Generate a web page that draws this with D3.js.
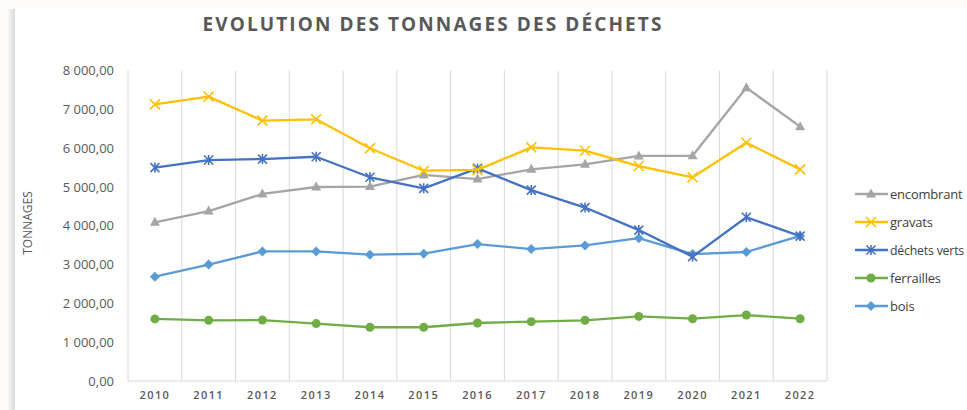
<!DOCTYPE html>
<html><head><meta charset="utf-8">
<script src="https://cdn.jsdelivr.net/npm/d3@7"></script>
<style>
html,body{margin:0;padding:0;background:#fdfcf9;overflow:hidden;}
svg{display:block;}
</style></head>
<body>
<svg id="c" width="967" height="410"></svg>
<script>
const years = ["2010","2011","2012","2013","2014","2015","2016","2017","2018","2019","2020","2021","2022"];
const encombrant = [4090,4380,4820,5000,5010,5310,5205,5455,5585,5800,5805,7560,6555];
const gravats = [7130,7330,6710,6745,6000,5420,5440,6020,5935,5540,5250,6140,5455];
const dechetsVerts = [5500,5695,5720,5780,5250,4965,5480,4920,4470,3890,3205,4220,3735];
const ferrailles = [1600,1565,1570,1480,1385,1385,1495,1530,1565,1665,1605,1700,1605];
const bois = [2690,3000,3340,3340,3255,3280,3530,3400,3495,3680,3270,3325,3740];
const yTicks = [0,1000,2000,3000,4000,5000,6000,7000,8000];
const seriesNames = ["encombrant","gravats","déchets verts","ferrailles","bois"];

const series = [
  {name: seriesNames[0], values: encombrant, color: "#A5A5A5", marker: "triangle"},
  {name: seriesNames[1], values: gravats, color: "#FFC000", marker: "x"},
  {name: seriesNames[2], values: dechetsVerts, color: "#4472C4", marker: "star"},
  {name: seriesNames[3], values: ferrailles, color: "#70AD47", marker: "circle"},
  {name: seriesNames[4], values: bois, color: "#5B9BD5", marker: "diamond"}
];

const svg = d3.select("#c");
const defs = svg.append("defs");
const g1 = defs.append("linearGradient").attr("id","sh").attr("x1","0").attr("x2","1");
g1.append("stop").attr("offset","0").attr("stop-color","#fdfcf9");
g1.append("stop").attr("offset","1").attr("stop-color","#d9d9d9");
svg.append("rect").attr("x",7).attr("y",9).attr("width",8).attr("height",410).attr("fill","url(#sh)");
svg.append("rect").attr("x",15).attr("y",9).attr("width",952).attr("height",410).attr("fill","#ffffff");

const L = 128, R = 827, T = 70.6, B = 381;
const x = d3.scaleBand().domain(years).range([L, R]);
const y = d3.scaleLinear().domain([0, 8000]).range([B, T]);

const bounds = years.map(d => x(d)).concat([R]);
svg.append("g").selectAll("line").data(bounds).join("line")
  .attr("x1", d => d).attr("x2", d => d).attr("y1", T).attr("y2", B)
  .attr("stroke", "#d9d9d9").attr("stroke-width", 1);
svg.append("line").attr("x1", L).attr("x2", R).attr("y1", B).attr("y2", B)
  .attr("stroke", "#d9d9d9").attr("stroke-width", 1);

const fmt = v => {
  const s = v.toFixed(2).replace(".", ",");
  const [i, f] = s.split(",");
  return i.replace(/\B(?=(\d{3})+(?!\d))/g, "\u00a0") + "," + f;
};
const yAxis = d3.axisLeft(y).tickValues(yTicks).tickFormat(fmt).tickSize(0).tickPadding(14);
const ya = svg.append("g").attr("transform", `translate(${L},0)`).call(yAxis);
ya.select(".domain").remove();
ya.selectAll("text").attr("fill", "#595959").style("font-family", "'Open Sans', sans-serif").style("font-size", "13px");

const xAxis = d3.axisBottom(x).tickSize(0).tickPadding(10);
const xa = svg.append("g").attr("transform", `translate(0,${B})`).call(xAxis);
xa.select(".domain").remove();
xa.selectAll("text").attr("fill", "#595959").style("font-family", "'Open Sans', sans-serif")
  .style("font-size", "11px").style("font-weight", "600").style("letter-spacing", "1.4px");

svg.append("text").attr("x", 433).attr("y", 31).attr("text-anchor", "middle")
  .attr("fill", "#595959").style("font-family", "'Open Sans', sans-serif").style("font-size", "19px")
  .style("font-weight", "700").style("letter-spacing", "2.1px").text("EVOLUTION DES TONNAGES DES DÉCHETS");
svg.append("text").attr("transform", "translate(32,223) rotate(-90)").attr("text-anchor", "middle")
  .attr("fill", "#595959").style("font-family", "'Open Sans', sans-serif").style("font-size", "12px")
  .text("TONNAGES");

const cx = d => x(d) + x.bandwidth() / 2;

function drawMarker(sel, type, color) {
  if (type === "triangle") {
    sel.append("path").attr("d", "M0,-5.5L5,3.5L-5,3.5Z").attr("fill", color);
  } else if (type === "x") {
    sel.append("path").attr("d", "M-5,-5L5,5M-5,5L5,-5").attr("stroke", color).attr("stroke-width", 1.6).attr("fill", "none");
  } else if (type === "star") {
    sel.append("path").attr("d", "M-4.5,-4.5L4.5,4.5M-4.5,4.5L4.5,-4.5M0,-5L0,5").attr("stroke", color).attr("stroke-width", 1.6).attr("fill", "none");
  } else if (type === "circle") {
    sel.append("circle").attr("r", 4.5).attr("fill", color);
  } else if (type === "diamond") {
    sel.append("path").attr("d", "M0,-5L5,0L0,5L-5,0Z").attr("fill", color);
  }
}

const line = d3.line().x((d, i) => cx(years[i])).y(d => y(d));
const order = [3, 4, 0, 2, 1];
order.forEach(k => {
  const s = series[k];
  svg.append("path").datum(s.values).attr("d", line).attr("fill", "none")
    .attr("stroke", s.color).attr("stroke-width", 2.3).attr("stroke-linejoin", "round");
  s.values.forEach((v, i) => {
    const m = svg.append("g").attr("transform", `translate(${cx(years[i])},${y(v)})`);
    drawMarker(m, s.marker, s.color);
  });
});

const lg = svg.append("g");
series.forEach((s, i) => {
  const ly = 194 + i * 28;
  lg.append("line").attr("x1", 855).attr("x2", 888).attr("y1", ly).attr("y2", ly)
    .attr("stroke", s.color).attr("stroke-width", 2.3);
  drawMarker(lg.append("g").attr("transform", `translate(871,${ly})`), s.marker, s.color);
  const t = lg.append("text").attr("x", 890).attr("y", ly + 4.5).attr("fill", "#404040")
    .style("font-family", "'Open Sans', sans-serif").style("font-size", "13px")
    .style("letter-spacing", "-0.2px").text(s.name);
  const w = t.node().getComputedTextLength();
  if (890 + w > 964) {
    t.attr("textLength", 964 - 890).attr("lengthAdjust", "spacingAndGlyphs");
  }
});
</script>
</body></html>
